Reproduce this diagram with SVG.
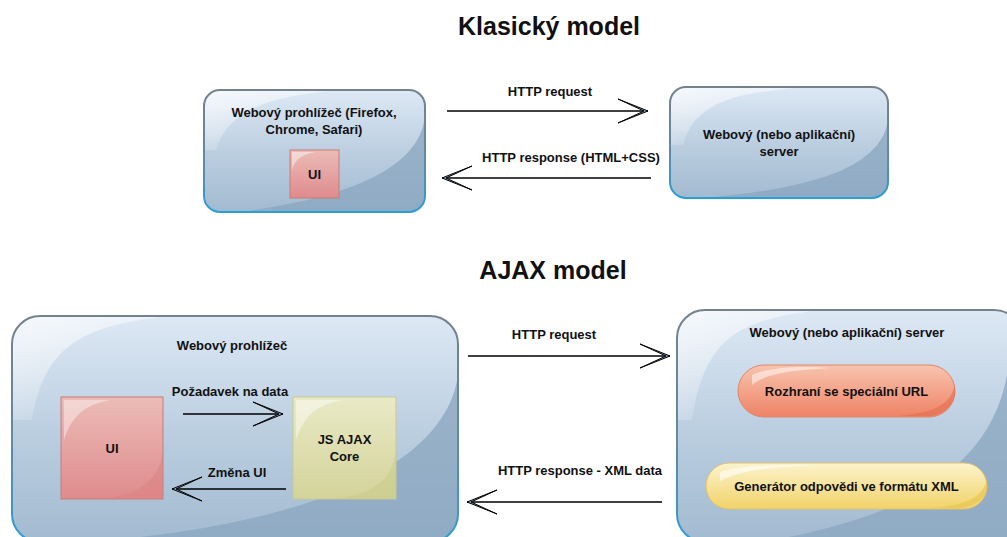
<svg xmlns="http://www.w3.org/2000/svg" width="1007" height="537" viewBox="0 0 1007 537">
<style>
text{font-family:"Liberation Sans",Arial,Helvetica,sans-serif;font-weight:bold;fill:#111;text-anchor:middle}
.t{font-size:13px}
.h{font-size:25px}
.conn{stroke:#000;stroke-width:1.5;fill:none;marker-end:url(#head)}
.glass{fill:url(#gBlue)}
.glassStroke{fill:none;stroke:url(#sBlue);stroke-width:2}
.dark{fill:#8aa6bf;opacity:0.75}
.gloss{fill:url(#gGloss)}
</style>
<defs>
<linearGradient id="gBlue" x1="0" y1="0" x2="0" y2="1">
<stop offset="0" stop-color="#dde8f4"/>
<stop offset="0.5" stop-color="#bccfe1"/>
<stop offset="1" stop-color="#a2bad0"/>
</linearGradient>
<linearGradient id="sBlue" x1="0" y1="0" x2="0" y2="1">
<stop offset="0" stop-color="#74828d"/>
<stop offset="0.6" stop-color="#5f8aa8"/>
<stop offset="1" stop-color="#2a9fd6"/>
</linearGradient>
<linearGradient id="gGloss" x1="0" y1="0" x2="0.6" y2="1">
<stop offset="0" stop-color="#fff" stop-opacity="0.75"/>
<stop offset="1" stop-color="#fff" stop-opacity="0"/>
</linearGradient>
<linearGradient id="gRed" x1="0" y1="0" x2="0" y2="1">
<stop offset="0" stop-color="#ebbcb6"/>
<stop offset="1" stop-color="#df8b8d"/>
</linearGradient>
<linearGradient id="gGreen" x1="0" y1="0" x2="0" y2="1">
<stop offset="0" stop-color="#e9eac6"/>
<stop offset="1" stop-color="#d3d39a"/>
</linearGradient>
<linearGradient id="gOrange" x1="0" y1="0" x2="0" y2="1">
<stop offset="0" stop-color="#f8c4ae"/>
<stop offset="1" stop-color="#ee8366"/>
</linearGradient>
<linearGradient id="gYellow" x1="0" y1="0" x2="0" y2="1">
<stop offset="0" stop-color="#fcf3cc"/>
<stop offset="1" stop-color="#f1d369"/>
</linearGradient>
<marker id="head" markerUnits="userSpaceOnUse" markerWidth="34" markerHeight="30" viewBox="0 0 34 30" refX="31" refY="15" orient="auto">
<polygon points="1,3 31,15 1,27 27,15" fill="#8da7c4" stroke="#000" stroke-width="1"/>
</marker>
<clipPath id="c1"><rect x="204" y="90" width="221" height="122" rx="16"/></clipPath>
<clipPath id="c2"><rect x="670" y="87" width="218" height="111" rx="16"/></clipPath>
<clipPath id="c3"><rect x="12" y="316" width="446" height="226" rx="28"/></clipPath>
<clipPath id="c4"><rect x="677" y="310" width="345" height="232" rx="28"/></clipPath>
</defs>

<text class="h" x="549" y="35">Klasický model</text>
<text class="h" x="553" y="279">AJAX model</text>

<g id="browser-classic">
<rect class="glass" x="204" y="90" width="221" height="122" rx="16"/>
<g clip-path="url(#c1)">
<path class="dark" d="M425,115 C420,175 330,200 240,212 L425,212 Z"/>
<path class="gloss" d="M204,90 L340,90 C280,96 230,104 216,150 L204,150 Z"/>
</g>
<rect class="glassStroke" x="204" y="90" width="221" height="122" rx="16"/>
<text class="t" x="314" y="117">Webový prohlížeč (Firefox,</text>
<text class="t" x="314" y="134">Chrome, Safari)</text>
</g>

<g id="ui-classic">
<rect x="290" y="150" width="49" height="48" fill="url(#gRed)" stroke="#c97a78" stroke-width="1"/>
<path d="M292,152 L315,152 C300,155 295,160 292,170 Z" fill="#fff" opacity="0.45"/>
<text class="t" x="314.5" y="178.5">UI</text>
</g>

<g id="server-classic">
<rect class="glass" x="670" y="87" width="218" height="111" rx="16"/>
<g clip-path="url(#c2)">
<path class="dark" d="M888,120 C880,175 790,190 705,198 L888,198 Z"/>
<path class="gloss" d="M670,87 L810,87 C740,92 695,100 683,145 L670,145 Z"/>
</g>
<rect class="glassStroke" x="670" y="87" width="218" height="111" rx="16"/>
<text class="t" x="779" y="139">Webový (nebo aplikační)</text>
<text class="t" x="779" y="156">server</text>
</g>

<g id="browser-ajax">
<rect class="glass" x="12" y="316" width="446" height="226" rx="28"/>
<g clip-path="url(#c3)">
<path class="dark" d="M458,375 C445,470 300,525 90,542 L458,542 Z"/>
<path class="gloss" d="M12,316 L170,316 C90,325 45,340 32,420 L12,420 Z"/>
</g>
<rect class="glassStroke" x="12" y="316" width="446" height="226" rx="28"/>
<text class="t" x="232" y="350">Webový prohlížeč</text>
</g>

<g id="ui-ajax">
<rect x="61" y="397" width="102" height="102" fill="url(#gRed)" stroke="#c97a78" stroke-width="1"/>
<path d="M64,400 L110,400 C85,405 72,415 64,440 Z" fill="#fff" opacity="0.4"/>
<path d="M163,450 C160,480 140,495 100,499 L163,499 Z" fill="#d97f82" opacity="0.5"/>
<text class="t" x="112" y="452.5">UI</text>
</g>

<g id="js-ajax-core">
<rect x="293" y="397" width="103" height="102" fill="url(#gGreen)" stroke="#c8c994" stroke-width="1"/>
<path d="M296,400 L342,400 C317,405 304,415 296,440 Z" fill="#fff" opacity="0.45"/>
<path d="M396,450 C393,480 373,495 333,499 L396,499 Z" fill="#c9c98a" opacity="0.5"/>
<text class="t" x="344.5" y="444">JS AJAX</text>
<text class="t" x="344.5" y="461">Core</text>
</g>

<g id="server-ajax">
<rect class="glass" x="677" y="310" width="345" height="232" rx="28"/>
<g clip-path="url(#c4)">
<path class="dark" d="M1007,375 C990,470 900,520 760,542 L1022,542 Z"/>
<path class="gloss" d="M677,310 L820,310 C740,320 705,335 692,420 L677,420 Z"/>
</g>
<rect class="glassStroke" x="677" y="310" width="345" height="232" rx="28"/>
<text class="t" x="847" y="337">Webový (nebo aplikační) server</text>
</g>

<g id="rozhrani">
<rect x="738" y="365" width="217" height="52" rx="26" fill="url(#gOrange)" stroke="#e0866c" stroke-width="1"/>
<path d="M752,375 C770,367 800,366 830,368 C790,370 765,374 752,385 Z" fill="#fff" opacity="0.5"/>
<path d="M955,385 C950,405 935,412 900,416 L930,416 C945,414 953,405 955,395 Z" fill="#e36d50" opacity="0.6"/>
<text class="t" x="846.5" y="395.5">Rozhraní se speciální URL</text>
</g>

<g id="generator">
<rect x="706" y="463" width="281" height="46" rx="23" fill="url(#gYellow)" stroke="#e0c270" stroke-width="1"/>
<path d="M720,472 C740,465 780,464 820,465 C770,467 740,470 720,481 Z" fill="#fff" opacity="0.6"/>
<path d="M987,480 C982,498 965,506 930,508 L962,508 C978,505 985,498 987,490 Z" fill="#e8c24a" opacity="0.6"/>
<text class="t" x="846.5" y="491">Generátor odpovědi ve formátu XML</text>
</g>

<g id="connectors">
<line class="conn" x1="447" y1="111" x2="648" y2="111"/>
<text class="t" x="550" y="96">HTTP request</text>
<line class="conn" x1="651" y1="178" x2="442" y2="178"/>
<text class="t" x="571" y="162">HTTP response (HTML+CSS)</text>
<line class="conn" x1="468" y1="356" x2="670" y2="356"/>
<text class="t" x="554" y="338.5">HTTP request</text>
<line class="conn" x1="662" y1="502" x2="467" y2="502"/>
<text class="t" x="580" y="474.5">HTTP response - XML data</text>
<line class="conn" x1="183" y1="414" x2="283" y2="414"/>
<text class="t" x="230" y="395.5">Požadavek na data</text>
<line class="conn" x1="286" y1="489" x2="172" y2="489"/>
<text class="t" x="237" y="476.5">Změna UI</text>
</g>
</svg>
